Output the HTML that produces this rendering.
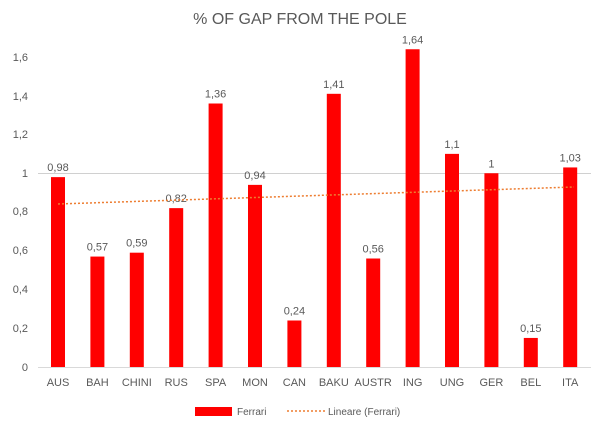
<!DOCTYPE html>
<html><head><style>
body{margin:0;background:#fff;}
text{font-family:"Liberation Sans",sans-serif;fill:#595959;}
</style></head><body>
<svg width="600" height="423" viewBox="0 0 600 423">
<rect width="600" height="423" fill="#fff"/>
<text x="300" y="24" font-size="16" text-anchor="middle">% OF GAP FROM THE POLE</text>
<g font-size="11" text-anchor="end">
<text x="28" y="371">0</text>
<text x="28" y="332">0,2</text>
<text x="28" y="293">0,4</text>
<text x="28" y="254">0,6</text>
<text x="28" y="215">0,8</text>
<text x="28" y="177">1</text>
<text x="28" y="138">1,2</text>
<text x="28" y="100">1,4</text>
<text x="28" y="61">1,6</text>
</g>
<line x1="38" y1="367.5" x2="591" y2="367.5" stroke="#d9d9d9" stroke-width="1"/>
<line x1="38" y1="173.5" x2="591" y2="173.5" stroke="#d0d0d0" stroke-width="1"/>
<g id="bars" fill="#ff0000"></g>
<g id="labels" font-size="11" text-anchor="middle"></g>
<g id="cats" font-size="11" text-anchor="middle"></g>
<line x1="58" y1="204" x2="574" y2="187" stroke="#ed7d31" stroke-width="1.5" stroke-dasharray="2,2"/>
<rect x="195" y="407" width="37" height="9" fill="#ff0000"/>
<text x="237" y="415" font-size="10">Ferrari</text>
<line x1="287" y1="411" x2="325" y2="411" stroke="#ed7d31" stroke-width="1.5" stroke-dasharray="2,2"/>
<text x="328" y="415" font-size="10">Lineare (Ferrari)</text>
</svg>
<script>
var d=[["AUS",.98,"0,98"],["BAH",.57,"0,57"],["CHINI",.59,"0,59"],["RUS",.82,"0,82"],["SPA",1.36,"1,36"],["MON",.94,"0,94"],["CAN",.24,"0,24"],["BAKU",1.41,"1,41"],["AUSTR",.56,"0,56"],["ING",1.64,"1,64"],["UNG",1.1,"1,1"],["GER",1,"1"],["BEL",.15,"0,15"],["ITA",1.03,"1,03"]];
var ns="http://www.w3.org/2000/svg",b=document.getElementById("bars"),l=document.getElementById("labels"),c=document.getElementById("cats");
d.forEach(function(e,i){var x=58+i*39.4,h=e[1]*193.75,y=367-h;
var r=document.createElementNS(ns,"rect");r.setAttribute("x",x-7);r.setAttribute("y",y);r.setAttribute("width",14);r.setAttribute("height",h);b.appendChild(r);
var t=document.createElementNS(ns,"text");t.setAttribute("x",x);t.setAttribute("y",y-6);t.textContent=e[2];l.appendChild(t);
var k=document.createElementNS(ns,"text");k.setAttribute("x",x);k.setAttribute("y",386);k.textContent=e[0];c.appendChild(k);});
</script>
</body></html>
